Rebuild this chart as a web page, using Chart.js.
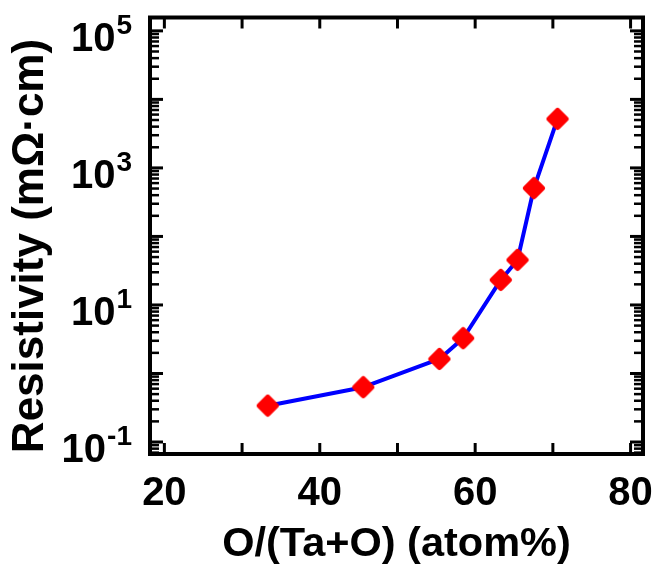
<!DOCTYPE html>
<html>
<head>
<meta charset="utf-8">
<script src="https://cdn.jsdelivr.net/npm/chart.js@4.4.1/dist/chart.umd.min.js"></script>
<style>
  html, body { margin: 0; padding: 0; background: #fff; }
</style>
</head>
<body>
<canvas id="chart" width="658" height="569"></canvas>
<script>
// values
var oxygen = [33.3, 45.6, 55.4, 58.45, 63.3, 65.45, 67.56, 70.6];
var resistivity = [0.339, 0.63, 1.63, 3.27, 23.2, 45.4, 506, 5190];
var xTicks = [20, 40, 60, 80];
var xTickMarks = [20, 30, 40, 50, 60, 70, 80];
var yTickExps = [-1, 1, 3, 5];
var yTitle = 'Resistivity (m\u03A9\u00B7cm)';

var FONT = '"Liberation Sans", Arial, sans-serif';
Chart.defaults.font.family = FONT;
Chart.defaults.color = '#000';

function seg(ctx, x1, y1, x2, y2) {
  ctx.beginPath();
  ctx.moveTo(x1, y1);
  ctx.lineTo(x2, y2);
  ctx.stroke();
}

// red diamond with rounded corners, used as the point style
function makeDiamond() {
  var c = document.createElement('canvas');
  c.width = 24;
  c.height = 24;
  var g = c.getContext('2d');
  g.fillStyle = '#ff0000';
  g.strokeStyle = '#ff0000';
  g.lineWidth = 6;
  g.lineJoin = 'round';
  g.beginPath();
  g.moveTo(12, 4);
  g.lineTo(20, 12);
  g.lineTo(12, 20);
  g.lineTo(4, 12);
  g.closePath();
  g.fill();
  g.stroke();
  return c;
}

// inward ticks on all sides, frame, 10^n labels and y title
var framePlugin = {
  id: 'frame',
  afterDraw: function(chart) {
    var ctx = chart.ctx, a = chart.chartArea;
    var xs = chart.scales.x, ys = chart.scales.y;
    ctx.save();
    ctx.strokeStyle = '#000';
    ctx.fillStyle = '#000';
    ctx.lineCap = 'butt';

    ctx.lineWidth = 3;
    xTickMarks.forEach(function(v) {
      var px = xs.getPixelForValue(v);
      seg(ctx, px, a.bottom, px, a.bottom - 11);
      seg(ctx, px, a.top, px, a.top + 11);
    });

    for (var e = -2; e <= 5; e++) {
      for (var m = 1; m <= 9; m++) {
        var v = m * Math.pow(10, e);
        if (v < ys.min || v > ys.max) continue;
        var py = ys.getPixelForValue(v);
        var len = m === 1 ? 13 : 9;
        ctx.lineWidth = m === 1 ? 3 : 2.5;
        seg(ctx, a.left, py, a.left + len, py);
        seg(ctx, a.right, py, a.right - len, py);
      }
    }

    ctx.lineWidth = 4;
    ctx.lineJoin = 'miter';
    ctx.strokeRect(a.left, a.top, a.right - a.left, a.bottom - a.top);

    ctx.textAlign = 'right';
    ctx.textBaseline = 'alphabetic';
    yTickExps.forEach(function(e) {
      var py = ys.getPixelForValue(Math.pow(10, e));
      var exp = String(e);
      ctx.font = 'bold 28px ' + FONT;
      var w = ctx.measureText(exp).width;
      ctx.fillText(exp, 132, py + 3);
      ctx.font = 'bold 40px ' + FONT;
      ctx.fillText('10', 132 - w - 1, py + 20);
    });

    ctx.translate(31, 246);
    ctx.rotate(-Math.PI / 2);
    ctx.textAlign = 'center';
    ctx.textBaseline = 'middle';
    ctx.font = 'bold 44px ' + FONT;
    ctx.fillText(yTitle, 0, 0);
    ctx.restore();
  }
};

new Chart(document.getElementById('chart'), {
  type: 'line',
  data: {
    datasets: [{
      data: oxygen.map(function(x, i) { return { x: x, y: resistivity[i] }; }),
      borderColor: '#0000ff',
      borderWidth: 4,
      borderJoinStyle: 'round',
      tension: 0,
      pointStyle: makeDiamond(),
      pointRadius: 11,
      pointBackgroundColor: '#ff0000',
      pointBorderColor: '#ff0000'
    }]
  },
  options: {
    responsive: false,
    animation: false,
    devicePixelRatio: 1,
    layout: { padding: { top: 17.5, right: 9.5, left: 0, bottom: 0 } },
    plugins: { legend: { display: false }, tooltip: { enabled: false } },
    scales: {
      x: {
        type: 'linear',
        min: 18.15,
        max: 81.6,
        grid: { display: false },
        border: { display: false },
        afterBuildTicks: function(s) {
          s.ticks = xTicks.map(function(v) { return { value: v }; });
        },
        afterFit: function(s) {
          s.height = 115;
          s.paddingLeft = 0;
          s.paddingRight = 0;
        },
        ticks: {
          font: { size: 40, weight: 'bold' },
          color: '#000',
          padding: 8,
          maxRotation: 0,
          autoSkip: false
        },
        title: {
          display: true,
          text: 'O/(Ta+O) (atom%)',
          font: { size: 41.5, weight: 'bold' },
          color: '#000',
          padding: { top: 0, bottom: 0 }
        }
      },
      y: {
        type: 'logarithmic',
        min: Math.pow(10, -1.175),
        max: Math.pow(10, 5.195),
        grid: { display: false },
        border: { display: false },
        ticks: { display: false },
        afterFit: function(s) {
          s.width = 150;
          s.paddingTop = 0;
          s.paddingBottom = 0;
        }
      }
    }
  },
  plugins: [framePlugin]
});
</script>
</body>
</html>
